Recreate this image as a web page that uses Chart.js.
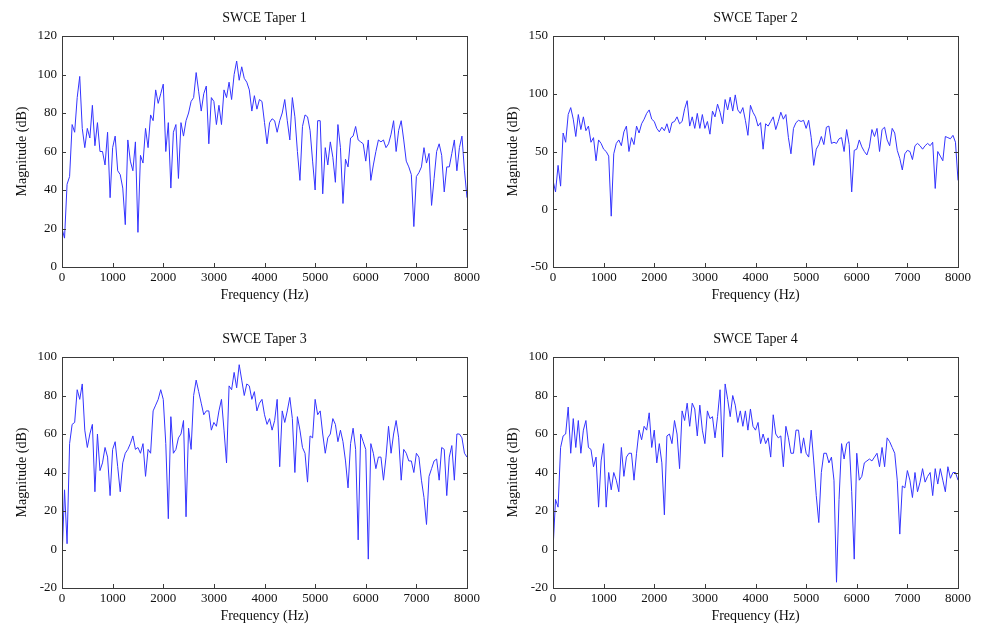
<!DOCTYPE html>
<html>
<head>
<meta charset="utf-8">
<script src="https://cdn.jsdelivr.net/npm/chart.js@4.4.1/dist/chart.umd.min.js"></script>
<style>
  body { margin: 0; background: #fff; }
  #wrap { position: relative; width: 990px; height: 625px; }
  #wrap canvas { position: absolute; }
</style>
</head>
<body>
<div id="wrap">
  <canvas id="taper1" width="495" height="312" style="left:0px;top:0px"></canvas>
  <canvas id="taper2" width="495" height="312" style="left:491px;top:0px"></canvas>
  <canvas id="taper3" width="495" height="312" style="left:0px;top:321px"></canvas>
  <canvas id="taper4" width="495" height="312" style="left:491px;top:321px"></canvas>
</div>
<script>
/* ===== DATA ===== */
const freqHz = [
  0, 50, 100, 150, 200, 250, 300, 350, 400, 450,
  500, 550, 600, 650, 700, 750, 800, 850, 900, 950,
  1000, 1050, 1100, 1150, 1200, 1250, 1300, 1350, 1400, 1450,
  1500, 1550, 1600, 1650, 1700, 1750, 1800, 1850, 1900, 1950,
  2000, 2050, 2100, 2150, 2200, 2250, 2300, 2350, 2400, 2450,
  2500, 2550, 2600, 2650, 2700, 2750, 2800, 2850, 2900, 2950,
  3000, 3050, 3100, 3150, 3200, 3250, 3300, 3350, 3400, 3450,
  3500, 3550, 3600, 3650, 3700, 3750, 3800, 3850, 3900, 3950,
  4000, 4050, 4100, 4150, 4200, 4250, 4300, 4350, 4400, 4450,
  4500, 4550, 4600, 4650, 4700, 4750, 4800, 4850, 4900, 4950,
  5000, 5050, 5100, 5150, 5200, 5250, 5300, 5350, 5400, 5450,
  5500, 5550, 5600, 5650, 5700, 5750, 5800, 5850, 5900, 5950,
  6000, 6050, 6100, 6150, 6200, 6250, 6300, 6350, 6400, 6450,
  6500, 6550, 6600, 6650, 6700, 6750, 6800, 6850, 6900, 6950,
  7000, 7050, 7100, 7150, 7200, 7250, 7300, 7350, 7400, 7450,
  7500, 7550, 7600, 7650, 7700, 7750, 7800, 7850, 7900, 7950,
  8000
];

const taper1Db = [
  20, 15, 43, 47, 74, 70, 88, 99, 72, 62,
  72, 67, 84, 63, 75, 60, 60, 53, 70, 36,
  62, 68, 50, 48, 41, 22, 66, 55, 50, 65,
  18, 58, 54, 72, 62, 79, 76, 92, 85, 90,
  95, 60, 75, 41, 70, 74, 46, 75, 68, 76,
  80, 86, 88, 101, 91, 81, 90, 94, 64, 88,
  86, 74, 84, 74, 92, 88, 96, 87, 100, 107,
  97, 104, 98, 96, 92, 81, 89, 82, 87, 86,
  75, 64, 75, 77, 76, 70, 76, 80, 87, 76,
  66, 88, 78, 60, 45, 73, 79, 78, 71, 55,
  40, 76, 76, 38, 62, 53, 65, 57, 44, 74,
  62, 33, 56, 52, 67, 68, 73, 66, 65, 64,
  55, 66, 45, 53, 60, 66, 65, 66, 62, 64,
  69, 76, 60, 71, 76, 66, 55, 52, 48, 21,
  47, 49, 52, 62, 54, 59, 32, 46, 60, 64,
  58, 39, 52, 52, 59, 66, 50, 62, 68, 50,
  36
];

const taper2Db = [
  25, 15, 38, 20, 66, 58, 82, 88, 78, 63,
  82, 69, 80, 68, 72, 58, 62, 42, 60, 57,
  52, 50, 46, -6, 48, 57, 60, 55, 67, 72,
  50, 62, 56, 72, 66, 74, 78, 83, 86, 78,
  76, 70, 67, 71, 68, 74, 66, 75, 76, 80,
  74, 76, 87, 94, 72, 80, 70, 83, 70, 82,
  70, 76, 65, 85, 80, 91, 84, 74, 95, 86,
  97, 85, 99, 86, 83, 88, 77, 64, 90, 84,
  80, 72, 75, 52, 74, 72, 76, 80, 69, 76,
  84, 78, 82, 62, 48, 70, 75, 77, 76, 77,
  70, 77, 62, 38, 52, 56, 63, 56, 71, 72,
  57, 58, 57, 61, 62, 50, 69, 56, 15, 51,
  52, 60, 54, 50, 47, 54, 69, 63, 70, 50,
  69, 71, 60, 55, 70, 66, 51, 44, 34, 48,
  51, 50, 43, 55, 57, 55, 52, 55, 57, 55,
  58, 18, 50, 46, 42, 63, 62, 61, 64, 58,
  25
];

const taper3Db = [
  -5, 31, 3, 55, 65, 66, 83, 78, 86, 62,
  53, 60, 65, 30, 60, 41, 45, 53, 48, 28,
  52, 56, 43, 30, 45, 50, 52, 55, 59, 52,
  53, 50, 55, 38, 52, 50, 72, 75, 78, 83,
  78, 55, 16, 69, 50, 52, 58, 60, 67, 17,
  63, 52, 80, 88, 82, 76, 70, 72, 72, 62,
  66, 64, 72, 78, 62, 45, 85, 83, 92, 84,
  96, 88, 80, 86, 85, 78, 82, 72, 76, 78,
  70, 65, 68, 62, 67, 78, 43, 72, 66, 72,
  79, 68, 40, 69, 62, 53, 50, 35, 59, 58,
  78, 70, 72, 60, 50, 58, 60, 68, 65, 56,
  62, 56, 46, 32, 55, 63, 52, 5, 60, 56,
  52, -5, 55, 50, 42, 48, 48, 36, 48, 64,
  50, 60, 67, 58, 36, 52, 50, 46, 46, 40,
  50, 48, 36, 27, 13, 38, 42, 46, 47, 36,
  53, 52, 28, 48, 54, 36, 60, 60, 58, 50,
  48
];

const taper4Db = [
  0, 26, 22, 53, 59, 60, 74, 50, 68, 53,
  67, 50, 62, 67, 53, 52, 43, 48, 22, 46,
  55, 22, 40, 31, 40, 36, 30, 53, 38, 48,
  50, 50, 36, 50, 62, 57, 64, 62, 71, 53,
  62, 45, 55, 45, 18, 59, 60, 55, 67, 60,
  42, 72, 67, 76, 64, 76, 73, 59, 75, 62,
  55, 72, 68, 69, 58, 69, 83, 48, 86, 78,
  69, 80, 75, 66, 72, 64, 72, 62, 73, 64,
  62, 66, 55, 60, 55, 58, 48, 70, 60, 58,
  59, 43, 64, 58, 50, 50, 62, 62, 50, 58,
  50, 48, 62, 46, 28, 14, 40, 50, 50, 45,
  48, 36, -17, 26, 55, 47, 55, 56, 30, -5,
  50, 36, 38, 45, 46, 47, 46, 48, 50, 43,
  53, 43, 58, 56, 53, 50, 36, 8, 33, 32,
  41, 36, 27, 40, 30, 35, 42, 35, 38, 40,
  28, 42, 34, 42, 36, 30, 43, 37, 40, 40,
  36
];

const panelTitles = ['SWCE Taper 1', 'SWCE Taper 2', 'SWCE Taper 3', 'SWCE Taper 4'];
const yRanges = [[0, 120, 20], [-50, 150, 50], [-20, 100, 20], [-20, 100, 20]];

/* ===== STYLE ===== */
const FONT = 'Liberation Serif, Times New Roman, serif';
const LINE_COLOR = '#3434ff';
const AXIS_COLOR = '#3a3a3a';

// title above the plot box
const titlePlugin = {
  id: 'panelTitle',
  afterDraw(chart, args, opts) {
    const ctx = chart.ctx;
    const area = chart.chartArea;
    ctx.save();
    ctx.font = '14px ' + FONT;
    ctx.fillStyle = '#111';
    ctx.textAlign = 'center';
    ctx.textBaseline = 'middle';
    ctx.fillText(opts.text, (area.left + area.right) / 2, 18);
    ctx.restore();
  }
};

// box around plot + inward ticks on all four sides
const boxPlugin = {
  id: 'boxTicks',
  afterDatasetsDraw(chart) {
    const ctx = chart.ctx;
    const a = chart.chartArea;
    const xs = chart.scales.x;
    const ys = chart.scales.y;
    const len = 4;
    ctx.save();
    ctx.strokeStyle = AXIS_COLOR;
    ctx.lineWidth = 1;
    ctx.beginPath();
    xs.ticks.forEach(t => {
      const px = Math.round(xs.getPixelForValue(t.value)) + 0.5;
      ctx.moveTo(px, a.bottom); ctx.lineTo(px, a.bottom - len);
      ctx.moveTo(px, a.top); ctx.lineTo(px, a.top + len);
    });
    ys.ticks.forEach(t => {
      const py = Math.round(ys.getPixelForValue(t.value)) + 0.5;
      ctx.moveTo(a.left, py); ctx.lineTo(a.left + len, py);
      ctx.moveTo(a.right, py); ctx.lineTo(a.right - len, py);
    });
    ctx.stroke();
    ctx.strokeRect(Math.round(a.left) + 0.5, Math.round(a.top) + 0.5,
      Math.round(a.right - a.left), Math.round(a.bottom - a.top));
    ctx.restore();
  }
};

function makePanel(id, title, values, range) {
  const points = freqHz.map((f, i) => ({ x: f, y: values[i] }));
  return new Chart(document.getElementById(id).getContext('2d'), {
    type: 'line',
    data: {
      datasets: [{
        data: points,
        borderColor: LINE_COLOR,
        borderWidth: 1,
        pointRadius: 0,
        tension: 0,
        fill: false,
      }],
    },
    options: {
      responsive: false,
      animation: false,
      events: [],
      layout: { padding: { top: 36, right: 28, left: 0, bottom: 0 } },
      plugins: {
        legend: { display: false },
        tooltip: { enabled: false },
        panelTitle: { text: title },
      },
      scales: {
        x: {
          type: 'linear',
          min: 0,
          max: 8000,
          grid: { display: false, drawTicks: false },
          border: { display: false },
          afterFit: s => { s.height = 45; },
          ticks: {
            stepSize: 1000,
            autoSkip: false,
            maxRotation: 0,
            padding: 3,
            color: '#111',
            font: { family: FONT, size: 13 },
            callback: v => String(v),
          },
          title: {
            display: true,
            text: 'Frequency (Hz)',
            color: '#111',
            font: { family: FONT, size: 14 },
            padding: { top: 0, bottom: 8 },
          },
        },
        y: {
          min: range[0],
          max: range[1],
          grid: { display: false, drawTicks: false },
          border: { display: false },
          afterFit: s => { s.width = 62; },
          ticks: {
            stepSize: range[2],
            padding: 5,
            color: '#111',
            font: { family: FONT, size: 13 },
          },
          title: {
            display: true,
            text: 'Magnitude (dB)',
            color: '#111',
            font: { family: FONT, size: 14 },
            padding: { top: 14, bottom: 0 },
          },
        },
      },
    },
    plugins: [titlePlugin, boxPlugin],
  });
}

makePanel('taper1', panelTitles[0], taper1Db, yRanges[0]);
makePanel('taper2', panelTitles[1], taper2Db, yRanges[1]);
makePanel('taper3', panelTitles[2], taper3Db, yRanges[2]);
makePanel('taper4', panelTitles[3], taper4Db, yRanges[3]);
</script>
</body>
</html>
